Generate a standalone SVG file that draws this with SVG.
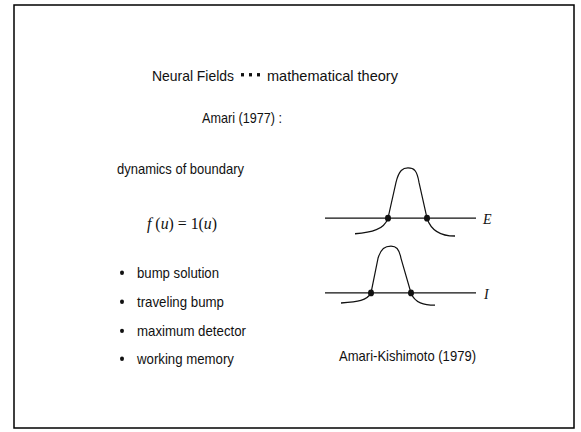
<svg xmlns="http://www.w3.org/2000/svg" width="581" height="432" viewBox="0 0 581 432">
<style>
.t{font-family:"Liberation Sans","Noto Sans CJK JP",sans-serif;font-size:13px;fill:#111}
.m{font-family:"Liberation Serif",serif;font-style:italic;font-size:14px;fill:#111}
.c{fill:none;stroke:#111;stroke-width:1.2}
.ax{stroke:#111;stroke-width:1.2}
.d{fill:#111}
</style>
<rect x="14" y="5" width="560" height="423" fill="#fff" stroke="#000" stroke-width="1.5"/>
<g transform="matrix(1 0 0 1.116 0 -0.58)">
<g id="title">
<text class="t" x="152" y="73" textLength="82" lengthAdjust="spacingAndGlyphs">Neural Fields</text>
<rect class="d" x="241" y="66" width="3" height="3"/>
<rect class="d" x="249" y="66" width="3" height="3"/>
<rect class="d" x="257" y="66" width="3" height="3"/>
<text class="t" x="267" y="73" textLength="131" lengthAdjust="spacingAndGlyphs">mathematical theory</text>
</g>
<g id="amari"><text class="t" x="202" y="111" textLength="80" lengthAdjust="spacingAndGlyphs">Amari (1977) :</text></g>
<g id="dynamics"><text class="t" x="117" y="156" textLength="127" lengthAdjust="spacingAndGlyphs">dynamics of boundary</text></g>
<g id="formula">
<text x="147" y="206" font-family="Liberation Serif,serif" font-size="15" fill="#111" textLength="70" lengthAdjust="spacingAndGlyphs"><tspan font-style="italic">f</tspan> (<tspan font-style="italic">u</tspan>) = 1(<tspan font-style="italic">u</tspan>)</text>
</g>
<g id="bullets">
<circle class="d" cx="122" cy="245" r="2"/>
<text class="t" x="137" y="250" textLength="82" lengthAdjust="spacingAndGlyphs">bump solution</text>
<circle class="d" cx="122" cy="271" r="2"/>
<text class="t" x="137" y="276" textLength="87" lengthAdjust="spacingAndGlyphs">traveling bump</text>
<circle class="d" cx="122" cy="297" r="2"/>
<text class="t" x="137" y="302" textLength="109" lengthAdjust="spacingAndGlyphs">maximum detector</text>
<circle class="d" cx="122" cy="322" r="2"/>
<text class="t" x="137" y="327" textLength="97" lengthAdjust="spacingAndGlyphs">working memory</text>
</g>
<g id="graphE">
<line class="ax" x1="325" y1="196" x2="476" y2="196"/>
<path class="c" d="M355,210 C372,209 384,206 388,196 L396,164 C399,153 403,151 408,151 C414,151 417,153 419,164 L427,196 C431,207 440,212 455,212"/>
<circle class="d" cx="388" cy="196" r="3"/>
<circle class="d" cx="427" cy="196" r="3"/>
<text class="m" x="483" y="201">E</text>
</g>
<g id="graphI">
<line class="ax" x1="325" y1="263" x2="476" y2="263"/>
<path class="c" d="M341,272 C358,271 367,270 371,263 L378,232 C381,223 385,221 391,221 C396,221 399,223 401,232 L411,263 C415,272 424,274 435,274"/>
<circle class="d" cx="371" cy="263" r="3"/>
<circle class="d" cx="411" cy="263" r="3"/>
<text class="m" x="484" y="268">I</text>
</g>
<g id="citation"><text class="t" x="339" y="324" textLength="137" lengthAdjust="spacingAndGlyphs">Amari-Kishimoto (1979)</text></g>
</g>
</svg>
